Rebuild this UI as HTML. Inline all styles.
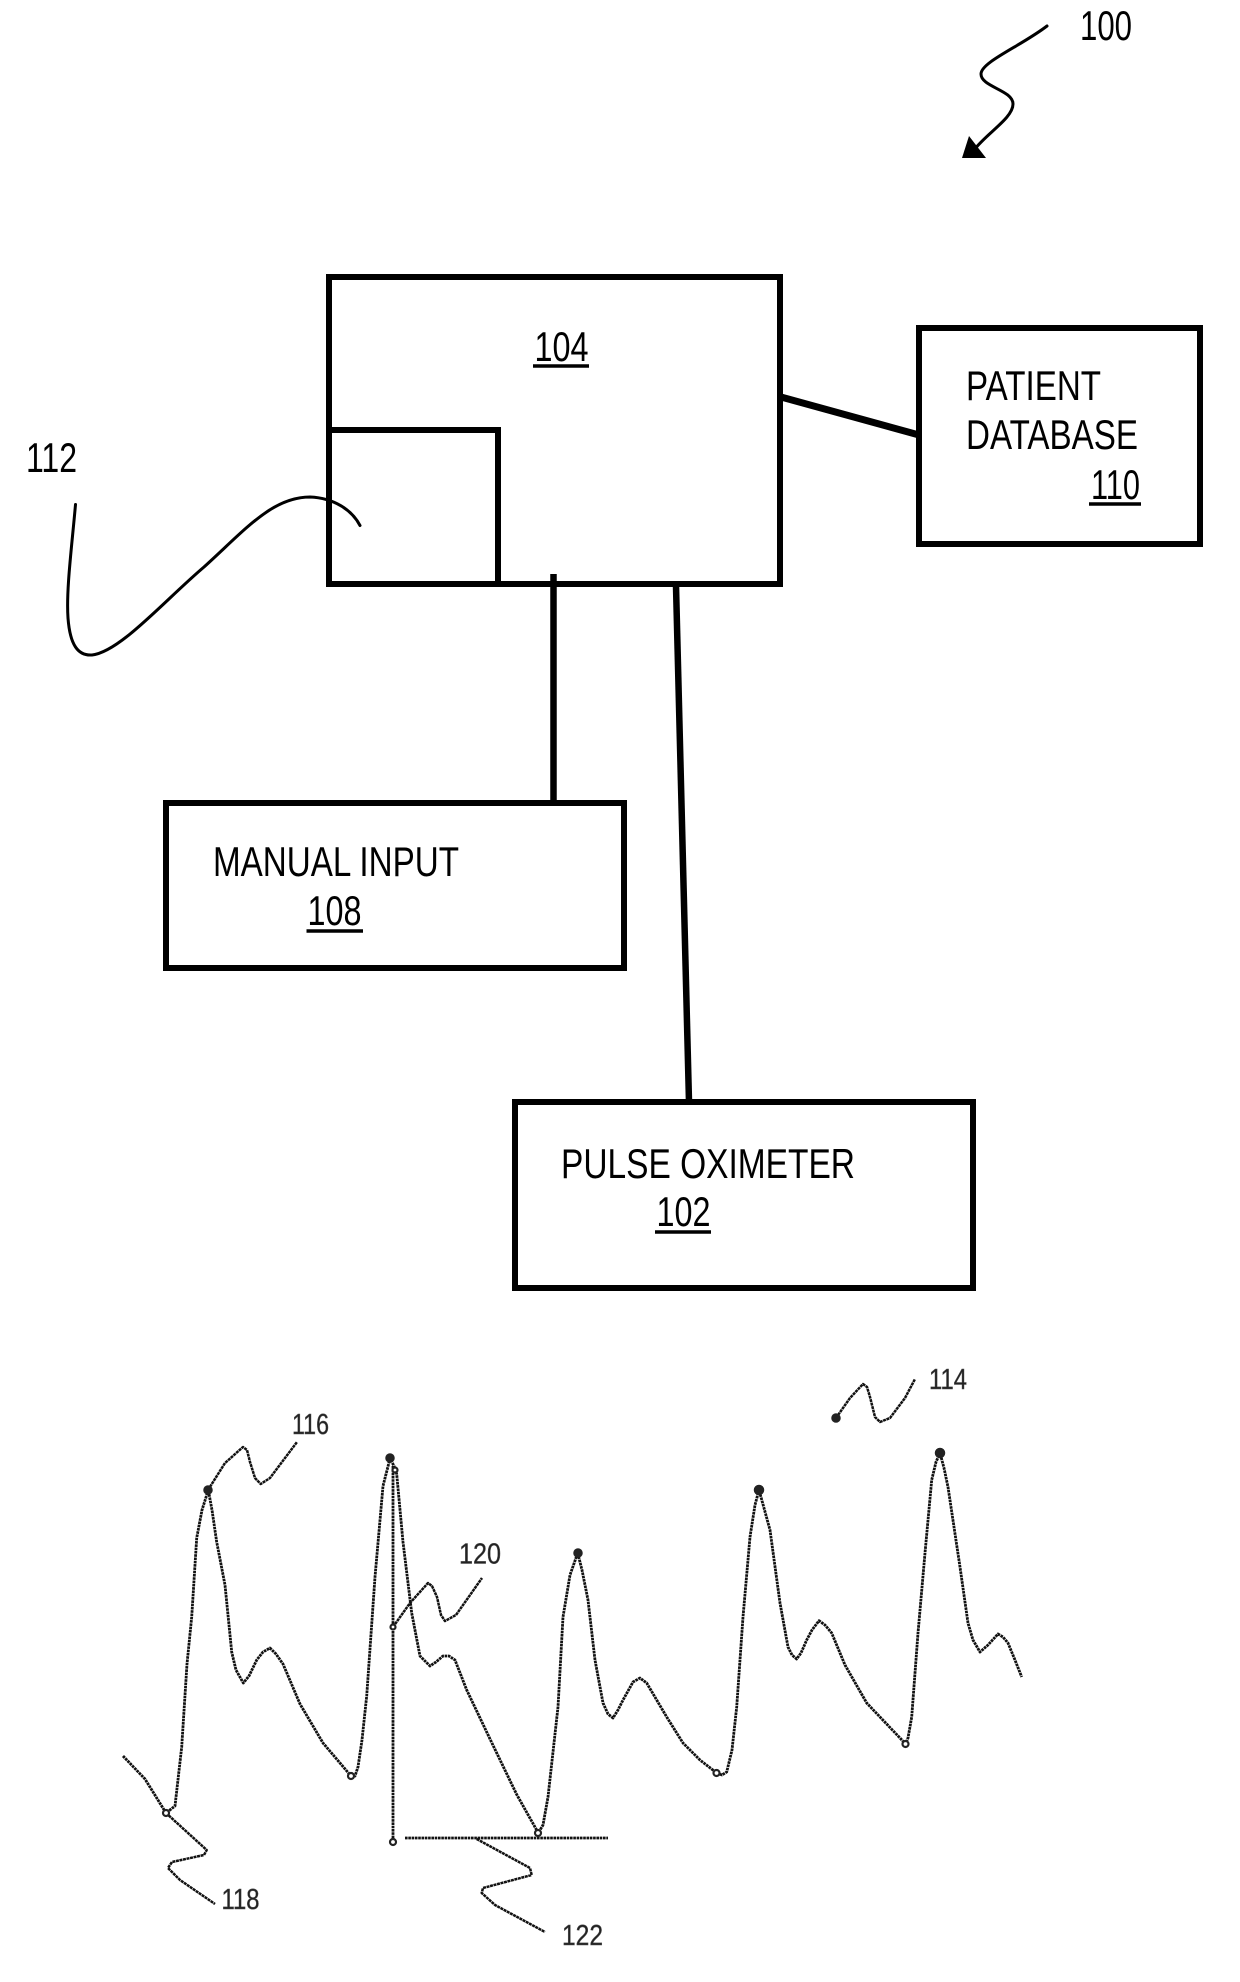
<!DOCTYPE html>
<html><head><meta charset="utf-8"><style>
html,body{margin:0;padding:0;background:#fff;width:1240px;height:1982px;overflow:hidden}
svg{display:block}
.t{font-family:"Liberation Sans",Arial,sans-serif;font-size:42px;fill:#000}
.s{font-family:"Liberation Sans",Arial,sans-serif;font-size:29px;fill:#222;stroke:#555;stroke-width:.5}
.b{fill:none;stroke:#000;stroke-width:6}
.c{fill:none;stroke:#000;stroke-width:3;stroke-linecap:round}
.w{fill:none;stroke:#111;stroke-width:2.8;stroke-dasharray:2.6 0.7;stroke-linejoin:round}
.l{fill:none;stroke:#111;stroke-width:2.5;stroke-dasharray:3 0.6;stroke-linejoin:round}
.p{fill:#222;stroke:#222;stroke-width:1.5}
.o{fill:#fff;stroke:#222;stroke-width:2.2}
</style></head><body>
<svg width="1240" height="1982" viewBox="0 0 1240 1982" xmlns="http://www.w3.org/2000/svg">
<rect width="1240" height="1982" fill="#fff"/>
<rect class="b" x="329" y="277" width="451" height="307"/>
<path class="b" d="M329 430H498V584"/>
<rect class="b" x="919" y="328" width="281" height="216"/>
<rect class="b" x="166" y="803" width="458" height="165"/>
<rect class="b" x="515" y="1102" width="458" height="186"/>
<path d="M781 397L919 435" stroke="#000" stroke-width="7" fill="none"/>
<path d="M553.5 574V803" stroke="#000" stroke-width="6.5" fill="none"/>
<path d="M676 586L689 1102" stroke="#000" stroke-width="6.5" fill="none"/>

<text class="t" x="1080" y="40" textLength="52" lengthAdjust="spacingAndGlyphs">100</text>
<text class="t" x="26" y="472" textLength="51" lengthAdjust="spacingAndGlyphs">112</text>
<text class="t" x="534.5" y="361" textLength="54" lengthAdjust="spacingAndGlyphs">104</text>
<path d="M533 366H589" stroke="#000" stroke-width="3.5"/>
<text class="t" x="966" y="400" textLength="135" lengthAdjust="spacingAndGlyphs">PATIENT</text>
<text class="t" x="966" y="449" textLength="172" lengthAdjust="spacingAndGlyphs">DATABASE</text>
<text class="t" x="1091" y="499" textLength="49" lengthAdjust="spacingAndGlyphs">110</text>
<path d="M1089 504H1141" stroke="#000" stroke-width="3.5"/>
<text class="t" x="213" y="876" textLength="246" lengthAdjust="spacingAndGlyphs">MANUAL INPUT</text>
<text class="t" x="307.5" y="925" textLength="54" lengthAdjust="spacingAndGlyphs">108</text>
<path d="M306.5 931H363" stroke="#000" stroke-width="3.5"/>
<text class="t" x="561" y="1178" textLength="294" lengthAdjust="spacingAndGlyphs">PULSE OXIMETER</text>
<text class="t" x="656.5" y="1226" textLength="54" lengthAdjust="spacingAndGlyphs">102</text>
<path d="M655 1232H711" stroke="#000" stroke-width="3.5"/>

<path class="c" d="M1047 26C1021 46 981 62 981 74C981 87 1013 90 1013 104C1013 118 987 133 974 150"/>
<polygon points="969,136 986,158 962,158" fill="#000"/>
<path class="c" d="M75.5 504.5C72 545 66 590 68 618C70 645 78 656 92 655C120 652 165 600 204 567C245 530 272 497 310 497C334 498 352 510 360 525.5"/>

<polyline class="w" points="123,1756 145,1779 166,1813 175,1806 181.7,1747 187,1664 191.7,1617 196.7,1538 202,1510 208.3,1490 212,1510 216.7,1542 225,1585 231.7,1652 236,1670 243.3,1683 249,1676 256.7,1660 263,1652 270,1648 276,1654 283,1664 300,1704 323,1743 350.7,1775.6 355,1776 358,1767 362,1740 366.7,1696 375,1577 383,1486 390,1458.6 394,1466 396.7,1474 403,1542 411.7,1613 420,1656 430,1666 436,1662 443,1656 449,1656 455,1660 466.7,1690 490,1739 516.7,1794.5 538.3,1833 543,1825 548,1797 558,1707 563,1617 570,1575 577.7,1553 582,1570 588,1600 595,1660 603,1703 608,1714 613,1718 618,1710 623,1700 633,1682 640,1678 646.7,1683 666.7,1717 683,1743 700,1760 716.7,1773 722,1775 726.7,1772 732,1750 736.7,1707 743,1617 750,1537 755,1505 759,1490 764,1508 770,1530 780,1603 788,1647 792,1655 796.7,1659 801,1653 806.7,1640 812,1630 819,1620.7 825,1625 831.7,1633 845,1665 866.7,1703 905.7,1744 908,1738 911.7,1717 918,1633 925,1553 931.7,1480 936,1462 940,1453 944,1468 948,1487 960,1567 968,1623 973,1640 980,1652 988,1645 998,1634 1003,1637 1008,1643 1015,1660 1021.7,1677"/>
<polyline class="l" points="208,1490 225,1463 243,1447 247,1450 250,1462 255,1478 260.7,1484 270,1478 297,1442"/>
<polyline class="l" points="393,1627 410,1603 428,1583 432,1586 437,1597 441,1615 445,1621 456,1615 482,1578"/>
<polyline class="w" points="393,1466 393,1842"/>
<polyline class="w" points="405,1838 608,1838"/>
<polyline class="l" points="166,1813 206.7,1850 204,1855 172,1862 168,1868 180,1880 215,1904"/>
<polyline class="l" points="476.7,1839 530,1868 531.7,1875 483,1888 481.7,1893 495,1905 545,1932"/>
<polyline class="l" points="836,1418 850,1398 863,1384 867,1387 870,1397 875,1417 880,1422 890,1418 905,1398 915,1379"/>

<g class="p">
<circle cx="208" cy="1490" r="4"/><circle cx="390" cy="1458" r="4"/>
<circle cx="578" cy="1553" r="4"/><circle cx="759" cy="1490" r="4.5"/>
<circle cx="940" cy="1453" r="4.5"/><circle cx="836" cy="1418" r="4"/>
</g>
<g class="o">
<circle cx="166" cy="1813" r="3"/><circle cx="351" cy="1776" r="3"/>
<circle cx="538" cy="1833" r="3"/><circle cx="716.5" cy="1773" r="3"/>
<circle cx="905.5" cy="1744" r="3"/><circle cx="393" cy="1842" r="3"/>
<circle cx="393" cy="1627" r="2.5"/><circle cx="395" cy="1470" r="2.5"/>
</g>

<text class="s" x="292" y="1434" textLength="37" lengthAdjust="spacingAndGlyphs">116</text>
<text class="s" x="459" y="1563.5" textLength="42" lengthAdjust="spacingAndGlyphs">120</text>
<text class="s" x="929" y="1389" textLength="38" lengthAdjust="spacingAndGlyphs">114</text>
<text class="s" x="221.5" y="1909" textLength="38" lengthAdjust="spacingAndGlyphs">118</text>
<text class="s" x="562" y="1945" textLength="41" lengthAdjust="spacingAndGlyphs">122</text>
</svg>
</body></html>
